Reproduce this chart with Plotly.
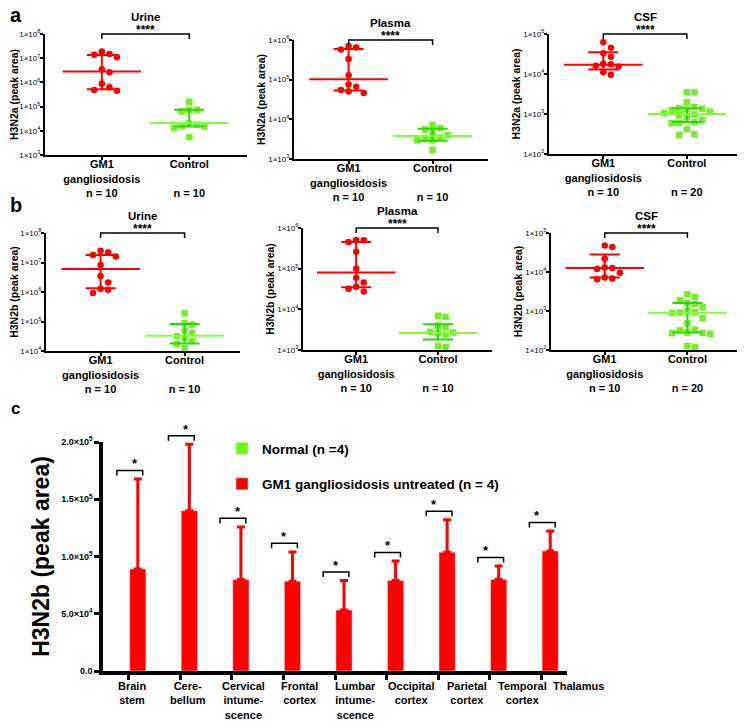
import numpy as np
import plotly.graph_objects as go

# page is 745x728; the browser body has an 8 px margin, so the figure itself is 8 px smaller
PAGE_OFF = 8
W, H = 745 - PAGE_OFF, 728 - PAGE_OFF
RED = "#ff0000"
GREEN_PT = "#77ee22"
GREEN_MED = "#80ff40"
GREEN_IQR = "#22dd00"
GREEN_BAR = "#66ff00"
FONT = "Arial"

# ---------------- panels a / b : values (peak area) ----------------
tick_gm1 = "<b>GM1</b><br><b>gangliosidosis</b><br><b>n = 10</b>"
tick_ctl10 = "<b>Control</b><br>&nbsp;<br><b>n = 10</b>"
tick_ctl20 = "<b>Control</b><br>&nbsp;<br><b>n = 20</b>"

a_urine_gm1 = [1.9e7, 1.4e7, 1.5e7, 1.1e7, 3.5e6, 2.6e6, 8.7e5, 6.3e5, 4.9e5, 4.5e5]
a_urine_ctl = [1.6e5, 7.4e4, 7.4e4, 6.3e4, 2.0e4, 1.8e4, 1.6e4, 1.5e4, 1.35e4, 5.5e3]
a_urine_gm1_stats = [2.8e6, 5.2e5, 1.35e7]   # median, q1, q3
a_urine_ctl_stats = [2.1e4, 1.5e4, 7.4e4]

a_plasma_gm1 = [7.1e5, 6.5e5, 5.8e5, 3.3e5, 1.3e5, 7.6e4, 6.6e4, 5.5e4, 5.0e4, 4.6e4]
a_plasma_ctl = [7.2e3, 6.0e3, 5.5e3, 4.7e3, 4.0e3, 3.5e3, 3.2e3, 3.0e3, 2.95e3, 1.7e3]
a_plasma_gm1_stats = [1.03e5, 5.3e4, 5.9e5]
a_plasma_ctl_stats = [3.8e3, 2.9e3, 5.8e3]

a_csf_gm1 = [6.2e4, 4.5e4, 3.3e4, 2.7e4, 1.8e4, 1.75e4, 1.6e4, 1.55e4, 1.1e4, 9.6e3]
a_csf_ctl = [3.5e3, 3.5e3, 1.95e3, 1.5e3, 1.4e3, 1.35e3, 1.3e3, 1.25e3, 1.15e3, 1.05e3,
             9.8e2, 9.3e2, 8.5e2, 7.1e2, 6.3e2, 6.0e2, 5.9e2, 4.2e2, 3.1e2, 3.0e2]
a_csf_gm1_stats = [1.7e4, 1.3e4, 3.5e4]
a_csf_ctl_stats = [1.0e3, 6.3e2, 1.4e3]

b_urine_gm1 = [2.5e7, 2.2e7, 1.8e7, 1.6e7, 8.3e6, 3.5e6, 2.1e6, 1.3e6, 1.2e6, 9.3e5]
b_urine_ctl = [1.9e5, 8.9e4, 7.9e4, 5.0e4, 4.0e4, 3.2e4, 2.8e4, 2.2e4, 1.7e4, 1.25e4]
b_urine_gm1_stats = [6.0e6, 1.35e6, 1.8e7]
b_urine_ctl_stats = [3.3e4, 1.8e4, 8.3e4]

b_plasma_gm1 = [5.1e5, 5.0e5, 4.5e5, 2.6e5, 1.0e5, 6.0e4, 4.6e4, 3.6e4, 3.2e4, 2.75e4]
b_plasma_ctl = [6.9e3, 6.5e3, 4.0e3, 3.6e3, 2.8e3, 2.7e3, 2.6e3, 2.4e3, 1.26e3, 1.2e3]
b_plasma_gm1_stats = [8.1e4, 3.5e4, 4.5e5]
b_plasma_ctl_stats = [2.6e3, 1.8e3, 4.3e3]

b_csf_gm1 = [4.8e4, 4.4e4, 2.2e4, 1.3e4, 1.26e4, 1.2e4, 9.5e3, 7.2e3, 6.8e3, 6.5e3]
b_csf_ctl = [2.7e3, 2.3e3, 1.9e3, 1.6e3, 1.5e3, 1.26e3, 9.8e2, 9.3e2, 9.1e2, 8.9e2,
             6.6e2, 4.8e2, 3.3e2, 3.2e2, 2.8e2, 2.75e2, 2.7e2, 2.6e2, 1.26e2, 1.2e2]
b_csf_gm1_stats = [1.26e4, 7.2e3, 2.8e4]
b_csf_ctl_stats = [9.0e2, 2.8e2, 1.6e3]

# ---------------- panel c ----------------
regions = ["Brain stem", "Cerebellum", "Cervical intumescence", "Frontal cortex",
           "Lumbar intumescence", "Occipital cortex", "Parietal cortex",
           "Temporal cortex", "Thalamus"]
region_labels = ["Brain<br>stem", "Cere-<br>bellum", "Cervical<br>intume-<br>scence",
                 "Frontal<br>cortex", "Lumbar<br>intume-<br>scence", "Occipital<br>cortex",
                 "Parietal<br>cortex", "Temporal<br>cortex", "Thalamus"]
normal_mean = [0, 0, 0, 0, 0, 0, 0, 0, 0]
gm1_mean = [8.9e4, 1.40e5, 8.0e4, 7.83e4, 5.33e4, 7.9e4, 1.037e5, 8.0e4, 1.048e5]
gm1_sd = [7.87e4, 5.8e4, 4.58e4, 2.57e4, 2.57e4, 1.7e4, 2.83e4, 1.17e4, 1.75e4]
c_yticks = [0, 5e4, 1e5, 1.5e5, 2e5]
c_yticktext = ["<b>0.0</b>", "<b>5.0×10<sup>4</sup></b>", "<b>1.0×10<sup>5</sup></b>",
               "<b>1.5×10<sup>5</sup></b>", "<b>2.0×10<sup>5</sup></b>"]
C_YMAX = 2e5


def px_x(p):
    return (p - PAGE_OFF) / W


def px_y(p):
    return 1 - (p - PAGE_OFF) / H


def swarm(vals, px_per_unit, px_per_dec, d):
    order = sorted(range(len(vals)), key=lambda i: -vals[i])
    placed = []
    off = [0.0] * len(vals)
    cands = [0.0]
    for m in range(1, 12):
        cands += [m * d, -m * d]
    for i in order:
        y = np.log10(vals[i]) * px_per_dec
        chosen = cands[-1]
        for cx in cands:
            if all((cx - px) ** 2 + (y - py) ** 2 >= (0.92 * d) ** 2 for px, py in placed):
                chosen = cx
                break
        placed.append((chosen, y))
        off[i] = chosen / px_per_unit
    return off


panels = [
    dict(title="Urine", ylab="H3N2a (peak area)", gm1=a_urine_gm1, ctl=a_urine_ctl,
         gs=a_urine_gm1_stats, cs=a_urine_ctl_stats, dec=(3, 8), dx=(45, 247), dy=(34, 155), ct=tick_ctl10),
    dict(title="Plasma", ylab="H3N2a (peak area)", gm1=a_plasma_gm1, ctl=a_plasma_ctl,
         gs=a_plasma_gm1_stats, cs=a_plasma_ctl_stats, dec=(3, 6), dx=(294, 488), dy=(40, 159), ct=tick_ctl10),
    dict(title="CSF", ylab="H3N2a (peak area)", gm1=a_csf_gm1, ctl=a_csf_ctl,
         gs=a_csf_gm1_stats, cs=a_csf_ctl_stats, dec=(2, 5), dx=(549, 742), dy=(34, 154), ct=tick_ctl20),
    dict(title="Urine", ylab="H3N2b (peak area)", gm1=b_urine_gm1, ctl=b_urine_ctl,
         gs=b_urine_gm1_stats, cs=b_urine_ctl_stats, dec=(4, 8), dx=(46, 240), dy=(233, 351), ct=tick_ctl10),
    dict(title="Plasma", ylab="H3N2b (peak area)", gm1=b_plasma_gm1, ctl=b_plasma_ctl,
         gs=b_plasma_gm1_stats, cs=b_plasma_ctl_stats, dec=(3, 6), dx=(303, 492), dy=(228, 350), ct=tick_ctl10),
    dict(title="CSF", ylab="H3N2b (peak area)", gm1=b_csf_gm1, ctl=b_csf_ctl,
         gs=b_csf_gm1_stats, cs=b_csf_ctl_stats, dec=(2, 5), dx=(551, 742), dy=(233, 350), ct=tick_ctl20),
]

XR = (-0.65, 1.66)
fig = go.Figure()
layout = dict(shapes=[], annotations=[])

for k, p in enumerate(panels, start=1):
    sx = "" if k == 1 else str(k)
    xa, ya = "x" + sx, "y" + sx
    w_px = p["dx"][1] - p["dx"][0]
    h_px = p["dy"][1] - p["dy"][0]
    ppu = w_px / (XR[1] - XR[0])
    ppd = h_px / (p["dec"][1] - p["dec"][0])
    og = swarm(p["gm1"], ppu, ppd, 7.6)
    oc = swarm(p["ctl"], ppu, ppd, 7.6)
    fig.add_trace(go.Scatter(x=[0 + o for o in og], y=p["gm1"], mode="markers", xaxis=xa, yaxis=ya,
                             marker=dict(symbol="circle", size=6.5, color=RED), showlegend=False,
                             hoverinfo="skip"))
    fig.add_trace(go.Scatter(x=[1 + o for o in oc], y=p["ctl"], mode="markers", xaxis=xa, yaxis=ya,
                             marker=dict(symbol="square", size=6.5, color=GREEN_PT), showlegend=False,
                             hoverinfo="skip"))
    for xc, st, cm, ci in [(0, p["gs"], RED, RED), (1, p["cs"], GREEN_MED, GREEN_IQR)]:
        med, q1, q3 = st
        fig.add_trace(go.Scatter(
            x=[xc], y=[med], mode="markers", xaxis=xa, yaxis=ya, showlegend=False, hoverinfo="skip",
            marker=dict(symbol="line-ew", size=56, line=dict(color=cm, width=2)),
            error_y=dict(type="data", symmetric=False, array=[q3 - med], arrayminus=[med - q1],
                         color=ci, thickness=2, width=15)))
    lo, hi = p["dec"]
    layout["xaxis" + sx] = dict(
        domain=[px_x(p["dx"][0]), px_x(p["dx"][1])], anchor=ya, range=list(XR), automargin=False,
        tickvals=[0, 1], ticktext=[tick_gm1, p["ct"]], showline=True, linecolor="black", linewidth=2,
        ticks="outside", ticklen=3, tickwidth=1.5, tickcolor="black", showgrid=False, zeroline=False,
        ticklabelstandoff=-5,
        tickfont=dict(family=FONT, size=11, color="black"))
    layout["yaxis" + sx] = dict(
        domain=[px_y(p["dy"][1]), px_y(p["dy"][0])], anchor=xa, type="log", range=[lo, hi],
        automargin=False,
        tickvals=[10 ** e for e in range(lo, hi + 1)],
        ticktext=["1×10<sup>%d</sup>" % e for e in range(lo, hi + 1)],
        showline=True, linecolor="black", linewidth=2, ticks="outside", ticklen=3, tickwidth=1.5,
        tickcolor="black", showgrid=False, zeroline=False, ticklabelstandoff=-2,
        tickfont=dict(family=FONT, size=8, color="black"),
        title=dict(text="<b>" + p["ylab"] + "</b>", font=dict(family=FONT, size=10.5, color="black"),
                   standoff=1))
    dd = 5.0 / h_px
    layout["shapes"].append(dict(type="path", xref=xa, yref=ya + " domain",
                                 path="M 0,%f L 0,1 L 1,1 L 1,%f" % (1 - dd, 1 - dd),
                                 line=dict(color="black", width=1.5)))
    layout["annotations"].append(dict(x=0.5, y=1, xref=xa, yref=ya + " domain", text="<b>****</b>",
                                      showarrow=False, yanchor="bottom", yshift=-5,
                                      font=dict(family=FONT, size=12, color="black")))
    layout["annotations"].append(dict(x=0.5, y=1, xref=xa, yref=ya + " domain",
                                      text="<b>" + p["title"] + "</b>",
                                      showarrow=False, yanchor="bottom", yshift=9,
                                      font=dict(family=FONT, size=11.5, color="black")))

# ---------------- panel c ----------------
fig.add_trace(go.Bar(x=regions, y=normal_mean, name="<b>Normal (n =4)</b>", marker_color=GREEN_BAR,
                     xaxis="x7", yaxis="y7", legendgroup="n", hoverinfo="skip"))
fig.add_trace(go.Bar(x=regions, y=gm1_mean, name="<b>GM1 gangliosidosis untreated (n = 4)</b>",
                     marker_color=RED, xaxis="x7", yaxis="y7", legendgroup="g", hoverinfo="skip",
                     error_y=dict(type="data", symmetric=False, array=gm1_sd,
                                  arrayminus=[0] * len(gm1_sd), color=RED, thickness=3, width=4)))

CR = (-0.5, 8.5)
cdom = [px_x(103), px_x(567)]
layout["xaxis7"] = dict(domain=cdom, anchor="y7", type="category", range=list(CR), automargin=False,
                        showticklabels=False, showline=True, linecolor="black", linewidth=3.5,
                        ticks="outside", ticklen=5, tickwidth=2.5, tickcolor="black", showgrid=False)
layout["yaxis7"] = dict(domain=[px_y(671), px_y(442)], anchor="x7", range=[0, C_YMAX], automargin=False,
                        tickvals=c_yticks, ticktext=c_yticktext, showline=True, linecolor="black",
                        linewidth=3.5, ticks="outside", ticklen=5, tickwidth=2.5, tickcolor="black",
                        showgrid=False, zeroline=False,
                        tickfont=dict(family=FONT, size=9, color="black"),
                        title=dict(text="<b>H3N2b (peak area)</b>",
                                   font=dict(family=FONT, size=23, color="black"), standoff=6))


def cx_dom(pos):
    return (pos - CR[0]) / (CR[1] - CR[0])


# category labels (spread slightly wider than the ticks, as in the original)
lab_w = 464.0
for i, t in enumerate(region_labels):
    layout["annotations"].append(dict(x=(29 + 55.75 * i) / lab_w, y=0, xref="x7 domain", yref="y7 domain",
                                      text="<b>%s</b>" % t, showarrow=False, xanchor="center",
                                      yanchor="top", yshift=-7, align="center",
                                      font=dict(family=FONT, size=11, color="black")))

drop = 4400
for i, (m, s) in enumerate(zip(gm1_mean, gm1_sd)):
    yb = m + s + 7500
    x0, x1 = cx_dom(i - 0.23), cx_dom(i + 0.27)
    y1, y0 = yb / C_YMAX, (yb - drop) / C_YMAX
    layout["shapes"].append(dict(type="path", xref="x7 domain", yref="y7 domain",
                                 path="M %f,%f L %f,%f L %f,%f L %f,%f" % (x0, y0, x0, y1, x1, y1, x1, y0),
                                 line=dict(color="black", width=1.5)))
    layout["annotations"].append(dict(x=cx_dom(i + 0.02), y=y1, xref="x7 domain", yref="y7 domain",
                                      text="<b>*</b>", showarrow=False, yanchor="bottom", yshift=-3,
                                      font=dict(family=FONT, size=13, color="black")))

for txt, x, y, sz in [("a", 16, 15, 20), ("b", 16, 205, 20), ("c", 15, 408, 17)]:
    layout["annotations"].append(dict(x=px_x(x), y=px_y(y), xref="paper", yref="paper",
                                      text="<b>%s</b>" % txt, showarrow=False,
                                      xanchor="center", yanchor="middle",
                                      font=dict(family=FONT, size=sz, color="black")))

fig.update_layout(**layout)
fig.update_layout(
    width=W, height=H, autosize=False, margin=dict(l=0, r=0, t=0, b=0, pad=0),
    paper_bgcolor="white", plot_bgcolor="white", barmode="group", bargap=0.3, bargroupgap=0.1,
    font=dict(family=FONT, color="black"),
    legend=dict(x=px_x(222), y=px_y(433), xanchor="left", yanchor="top", tracegroupgap=15,
                font=dict(family=FONT, size=13.5, color="black"), bgcolor="rgba(0,0,0,0)",
                itemwidth=30),
)

fig.write_html("out.html")
